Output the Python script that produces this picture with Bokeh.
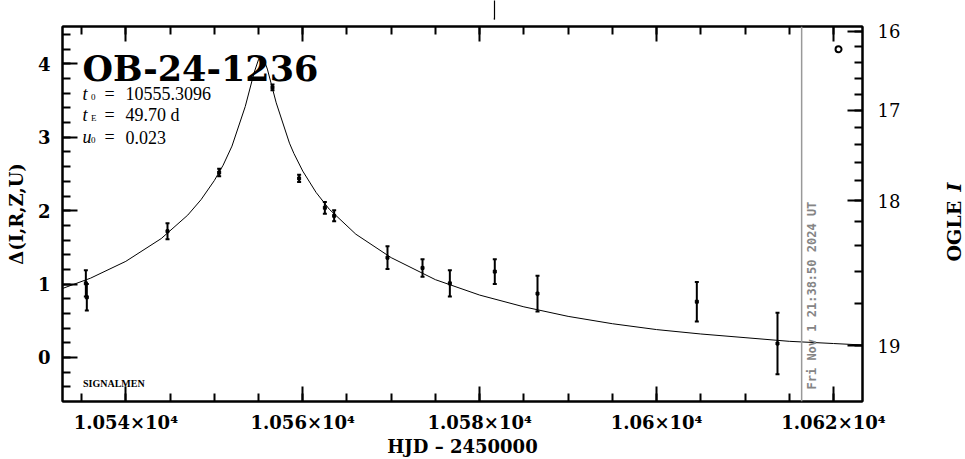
import math
from bokeh.plotting import figure
from bokeh.layouts import row
from bokeh.models import (ColumnDataSource, FixedTicker, LinearAxis, Range1d, Whisker,
                          TeeHead, Label, Span, Arrow, OpenHead, CustomJSTickFormatter)
from bokeh.embed import file_html
from bokeh.resources import INLINE

# ---------------- data ----------------
event_name = "OB-24-1236"
t0_value = "10555.3096"
tE_value = "49.70 d"
u0_value = "0.023"
credit = "SIGNALMEN"

obs_hjd = [10535.48, 10535.59, 10544.71, 10550.55, 10556.58, 10559.59, 10562.50,
           10563.55, 10569.58, 10573.54, 10576.63, 10581.71, 10586.54, 10604.55, 10613.67]
obs_delta = [1.01, 0.82, 1.72, 2.52, 3.68, 2.44, 2.04,
             1.93, 1.36, 1.22, 1.01, 1.17, 0.87, 0.76, 0.19]
obs_err = [0.18, 0.18, 0.11, 0.05, 0.04, 0.05, 0.08,
           0.075, 0.155, 0.12, 0.18, 0.17, 0.245, 0.27, 0.42]

model_hjd = [10532.84, 10536.0, 10540.0, 10544.0, 10547.0, 10548.5, 10550.0, 10551.0,
             10552.0, 10553.5, 10554.5, 10555.0, 10555.31, 10555.6, 10556.0, 10557.0,
             10558.5, 10559.0, 10560.0, 10561.5, 10563.0, 10566.0, 10570.0, 10575.0,
             10580.0, 10585.0, 10590.0, 10595.0, 10600.0, 10605.0, 10610.0, 10615.0,
             10620.0, 10623.28]
model_delta = [0.94, 1.08, 1.31, 1.62, 1.94, 2.15, 2.41, 2.62,
               2.88, 3.42, 3.88, 4.06, 4.10, 4.06, 3.93, 3.47,
               2.92, 2.78, 2.54, 2.25, 2.02, 1.68, 1.36, 1.06,
               0.85, 0.69, 0.56, 0.46, 0.38, 0.32, 0.27, 0.22,
               0.19, 0.17]

marker_hjd = [10620.57]
marker_delta = [4.20]

arrow_hjd = 10581.65
now_hjd = 10616.40
now_text = "Fri Nov  1 21:38:50 2024 UT"

x_major = [10540, 10560, 10580, 10600, 10620]
x_major_labels = ["1.054×10⁴", "1.056×10⁴", "1.058×10⁴", "1.06×10⁴", "1.062×10⁴"]
x_minor = [10535, 10545, 10550, 10555, 10565, 10570, 10575, 10585, 10590, 10595,
           10605, 10610, 10615]
y_major = [0, 1, 2, 3, 4]
y_minor = [-0.4, -0.2, 0.2, 0.4, 0.6, 0.8, 1.2, 1.4, 1.6, 1.8, 2.2, 2.4, 2.6, 2.8,
           3.2, 3.4, 3.6, 3.8, 4.2, 4.4]
mag_major = [16, 17, 18, 19]
mag_major_labels = ["16", "17", "18", "19"]
mag_minor = [16.2, 16.4, 16.6, 16.8, 17.2, 17.4, 17.6, 17.8, 18.2, 18.4, 18.6, 18.8]
I_base = 19.045
f_source = 0.263

x_lo, x_hi = 10532.84, 10623.28
y_lo, y_hi = -0.60, 4.51


def mag_to_delta(m):
    flux = 10 ** (-0.4 * (m - I_base))
    amp = (flux - (1 - f_source)) / f_source
    return 2.5 * math.log10(amp)


# ---------------- layout ----------------
W, H = 965, 459
WR = 30                       # narrow strip on the right for the "OGLE I" title
WM = W - WR                   # main figure width
FL, FT, FW, FH = 62, 26, 800, 376
ppu = FH / (y_hi - y_lo)
ARROW_GAP = 7                 # pixels between frame top and arrow tip
ARROW_LEN = FT - ARROW_GAP    # shaft length (reaches the top of the page)

p = figure(width=WM, height=H, x_range=Range1d(x_lo, x_hi), y_range=Range1d(y_lo, y_hi),
           output_backend="svg", toolbar_location=None,
           x_axis_location=None, y_axis_location=None,
           min_border_left=FL, min_border_top=FT, min_border_right=WM - FL - FW,
           min_border_bottom=H - FT - FH)
for g in p.grid:
    g.visible = False
p.outline_line_color = "black"
p.outline_line_width = 2
p.background_fill_color = "white"
p.border_fill_color = "white"

SERIF = "DejaVu Serif"
EMPTY = CustomJSTickFormatter(code="return '';")


def style_axis(ax, bold=True):
    ax.axis_line_width = 2
    ax.axis_line_color = "black"
    ax.major_tick_in = 15
    ax.major_tick_out = 0
    ax.minor_tick_in = 8
    ax.minor_tick_out = 0
    ax.major_tick_line_width = 2
    ax.minor_tick_line_width = 2
    ax.major_tick_line_color = "black"
    ax.minor_tick_line_color = "black"
    ax.major_label_text_font = SERIF
    ax.major_label_text_font_style = "bold" if bold else "normal"
    ax.major_label_text_font_size = "18px"
    ax.major_label_text_color = "black"
    ax.axis_label_text_font = SERIF
    ax.axis_label_text_font_style = "bold"
    ax.axis_label_text_font_size = "18px"
    ax.axis_label_text_color = "black"


x_ticker = FixedTicker(ticks=x_major, minor_ticks=x_minor + x_major)

xb = LinearAxis(ticker=x_ticker, major_label_overrides=dict(zip(x_major, x_major_labels)),
                axis_label="HJD – 2450000")
style_axis(xb)
xb.major_label_standoff = 10
xb.axis_label_standoff = 0
p.add_layout(xb, "below")

# top frame edge with inward ticks, no labels
xt = LinearAxis(ticker=x_ticker, formatter=EMPTY)
style_axis(xt)
xt.major_label_text_font_size = "0px"
xt.major_label_standoff = 0
p.add_layout(xt, "above")

# shaft of the arrow above the frame: one outward tick of a second top axis,
# dashed so that only the outer part (page top down to the tip) is drawn
xa = LinearAxis(ticker=FixedTicker(ticks=[arrow_hjd], minor_ticks=[]), formatter=EMPTY,
                axis_line_color=None, major_tick_in=0, major_tick_out=FT,
                minor_tick_in=0, minor_tick_out=0,
                major_tick_line_width=1.2, major_tick_line_color="black",
                major_tick_line_dash=f"{ARROW_LEN} {ARROW_GAP + 4}",
                major_label_text_font_size="0px", major_label_standoff=0)
p.add_layout(xa, "above")

yl = LinearAxis(ticker=FixedTicker(ticks=y_major, minor_ticks=y_minor + y_major),
                axis_label="Δ(I,R,Z,U)")
style_axis(yl)
yl.major_label_standoff = 12
yl.axis_label_standoff = 8
p.add_layout(yl, "left")

mag_major_y = [mag_to_delta(m) for m in mag_major]
mag_minor_y = [mag_to_delta(m) for m in mag_minor]
yr = LinearAxis(ticker=FixedTicker(ticks=mag_major_y, minor_ticks=mag_minor_y + mag_major_y),
                formatter=CustomJSTickFormatter(args=dict(ys=mag_major_y, labels=mag_major_labels),
                                                code="""
let best = 0, bd = 1e9;
for (let i = 0; i < ys.length; i++) {
  const d = Math.abs(ys[i] - tick);
  if (d < bd) { bd = d; best = i; }
}
return labels[best];
"""))
style_axis(yr, bold=False)
yr.major_label_standoff = 15
p.add_layout(yr, "right")

# ---------------- marks ----------------
p.line(model_hjd, model_delta, line_color="black", line_width=1)

src = ColumnDataSource(dict(
    x=obs_hjd, y=obs_delta,
    lo=[v - e for v, e in zip(obs_delta, obs_err)],
    hi=[v + e for v, e in zip(obs_delta, obs_err)],
))
p.add_layout(Whisker(source=src, base="x", lower="lo", upper="hi", line_width=2,
                     line_color="black",
                     upper_head=TeeHead(size=4, line_width=2, line_color="black"),
                     lower_head=TeeHead(size=4, line_width=2, line_color="black")))
p.scatter("x", "y", source=src, marker="square", size=3, color="black")

p.scatter(marker_hjd, marker_delta, marker="circle", size=6, fill_color=None,
          line_color="black", line_width=2)

p.add_layout(Span(location=now_hjd, dimension="height", line_color="#999999", line_width=1.5))

# arrow tip (heads are drawn outside the frame)
p.add_layout(Arrow(end=OpenHead(size=6, line_width=1.2, line_color="black"), start=None,
                   x_start=arrow_hjd, y_start=y_hi + (ARROW_GAP + 2) / ppu,
                   x_end=arrow_hjd, y_end=y_hi + ARROW_GAP / ppu,
                   line_width=1, line_color="black"))

PAGE_FB = FT + FH


def lab(fig, text, page_x, page_y, left=FL, **kw):
    opts = dict(x=page_x - left, y=PAGE_FB - page_y, x_units="screen", y_units="screen",
                text=text, text_color="black", text_font="Liberation Serif",
                text_font_size="18px", text_baseline="alphabetic", text_align="left")
    opts.update(kw)
    fig.add_layout(Label(**opts))


lab(p, event_name, 82, 68.5, text_font=SERIF, text_font_style="bold", text_font_size="35px")

rows = [("t", "0", t0_value, 94), ("t", "E", tE_value, 115.5), ("u", "0", u0_value, 137.5)]
for sym, sub, val, base in rows:
    lab(p, sym, 82, base, text_font_style="italic")
    lab(p, sub, 90.5, base + 3, text_font_size="9px")
    lab(p, "=", 104, base)
    lab(p, val, 125, base)

lab(p, credit, 82.5, 384, text_font_size="10px", text_font_style="bold")

lab(p, now_text, 811, 390, text_font="DejaVu Sans Mono", text_font_style="bold",
    text_font_size="12px", text_color="#858585", angle=math.pi / 2, text_baseline="middle")

# ---------------- right strip with the magnitude-axis title ----------------
q = figure(width=WR, height=H, x_range=Range1d(0, 1), y_range=Range1d(0, 1),
           output_backend="svg", toolbar_location=None,
           x_axis_location=None, y_axis_location=None,
           min_border_left=0, min_border_right=0, min_border_top=FT,
           min_border_bottom=H - FT - FH)
for g in q.grid:
    g.visible = False
q.outline_line_color = None
q.background_fill_color = "white"
q.border_fill_color = "white"

lab(q, "OGLE", 953, 262, left=WM, text_font=SERIF, text_font_style="bold",
    text_font_size="19px", angle=math.pi / 2, text_baseline="middle")
lab(q, "I", 953, 192, left=WM, text_font=SERIF, text_font_style="bold italic",
    text_font_size="19px", angle=math.pi / 2, text_baseline="middle")

layout = row(p, q, spacing=0)
open("out.html", "w", encoding="utf-8").write(file_html(layout, INLINE))
